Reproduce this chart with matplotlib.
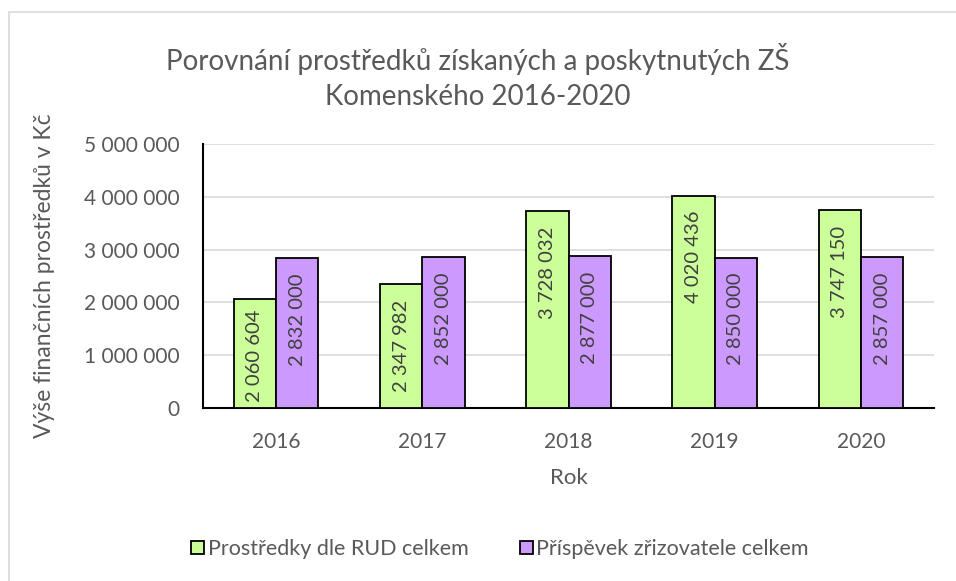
import matplotlib
matplotlib.use("Agg")
import matplotlib.pyplot as plt
from matplotlib.patches import Rectangle
import numpy as np

plt.rcParams["font.family"] = ["Lato", "DejaVu Sans"]

# Data
roky = ["2016", "2017", "2018", "2019", "2020"]
rud = [2060604, 2347982, 3728032, 4020436, 3747150]
prispevek = [2832000, 2852000, 2877000, 2850000, 2857000]
nazvy = ["Prostředky dle RUD celkem", "Příspěvek zřizovatele celkem"]
y_ticks = [0, 1000000, 2000000, 3000000, 4000000, 5000000]

seda = "#595959"
zelena = "#CCFF99"
fialova = "#CC99FF"


def fmt(v):
    return f"{v:,}".replace(",", " ")


fig = plt.figure(figsize=(9.56, 5.81), dpi=100)
ax = fig.add_axes([203 / 956, 1 - 408 / 581, (934 - 203) / 956, (408 - 144) / 581])

# ramecek grafu (viditelny jen nahore a vlevo)
fig.patches.append(Rectangle((9 / 956, -0.1), 1.2, 1 - 12 / 581 + 0.1,
                             transform=fig.transFigure, fill=False,
                             edgecolor="#D9D9D9", linewidth=1.2))

x = np.arange(len(roky))
w = 0.29
b1 = ax.bar(x - w / 2, rud, w, color=zelena, edgecolor="black", linewidth=1.3, zorder=3,
            label=nazvy[0])
b2 = ax.bar(x + w / 2, prispevek, w, color=fialova, edgecolor="black", linewidth=1.3, zorder=3,
            label=nazvy[1])

ax.set_xlim(-0.5, len(roky) - 0.5)
ax.set_ylim(0, 5000000)
ax.set_yticks(y_ticks)
ax.set_yticklabels([fmt(v) for v in y_ticks])
ax.set_xticks(x)
ax.set_xticklabels(roky)
ax.tick_params(axis="both", length=0, labelsize=15, colors=seda)
ax.tick_params(axis="y", pad=17)
ax.tick_params(axis="x", pad=17)
ax.grid(axis="y", color="#D9D9D9", linewidth=1.2, zorder=0)
for s in ["top", "right"]:
    ax.spines[s].set_visible(False)
ax.spines["left"].set_linewidth(1.5)
ax.spines["bottom"].set_linewidth(1.5)

ax.set_xlabel("Rok", fontsize=16, color=seda, labelpad=12)
ax.set_ylabel("Výše finančních prostředků v Kč", fontsize=16.5, color=seda)
ax.yaxis.set_label_coords(-(203 - 55) / (934 - 203), 0.5)

fig.suptitle("Porovnání prostředků získaných a poskytnutých ZŠ\nKomenského 2016-2020",
             fontsize=20, color=seda, y=1 - 43 / 581, va="top", linespacing=1.45)

# popisky dat (uvnitr na konci, otocene)
texty = []
for bars, vals in [(b1, rud), (b2, prispevek)]:
    for rect, v in zip(bars, vals):
        t = ax.annotate(fmt(v), (rect.get_x() + rect.get_width() / 2, v),
                        xytext=(0, -11), textcoords="offset points",
                        rotation=90, ha="center", va="top", fontsize=14.5,
                        color="#404040", zorder=4)
        texty.append(t)

fig.canvas.draw()
r = fig.canvas.get_renderer()
y0 = ax.transData.transform((0, 0))[1]
for t in texty:
    bb = t.get_window_extent(r)
    if bb.y0 < y0 + 6:
        t.xyann = (0, t.xyann[1] + (y0 + 6 - bb.y0) * 72 / fig.dpi)

fig.legend(handles=[b1, b2], labels=nazvy, loc="center", bbox_to_anchor=(500 / 956, 1 - 549 / 581),
           ncol=2, frameon=False, fontsize=15.5, labelcolor=seda, handlelength=0.6,
           handleheight=0.6, handletextpad=0.15, columnspacing=2.4)

fig.savefig("out.png", dpi=100)
